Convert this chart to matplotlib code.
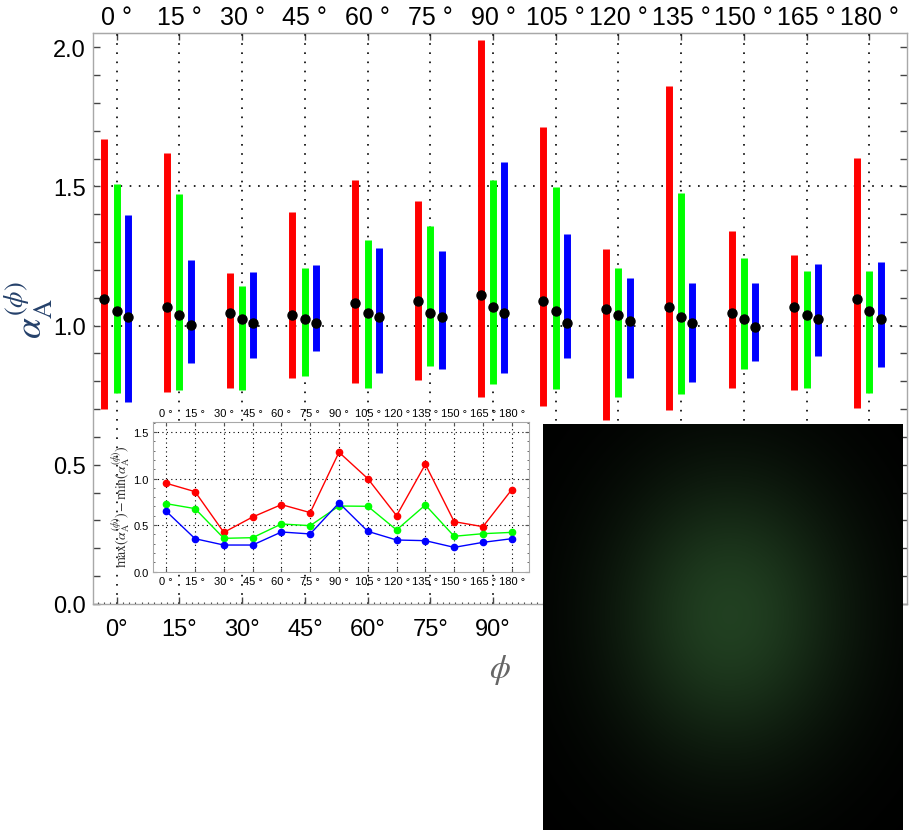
import numpy as np
import matplotlib
matplotlib.use("Agg")
import matplotlib.pyplot as plt
from matplotlib.ticker import FixedLocator, MultipleLocator

plt.rcParams['font.family'] = ['Liberation Sans', 'DejaVu Sans']
plt.rcParams['mathtext.fontset'] = 'stix'

# ---------------- data ----------------
angles = [0, 15, 30, 45, 60, 75, 90, 105, 120, 135, 150, 165, 180]
top_labels = ["0 °", "15 °", "30 °", "45 °", "60 °", "75 °", "90 °", "105 °",
              "120 °", "135 °", "150 °", "165 °", "180 °"]
bottom_labels = ["0°", "15°", "30°", "45°", "60°", "75°", "90°", "", "", "", "", "", ""]
y_ticks = [0.0, 0.5, 1.0, 1.5, 2.0]
y_ticklabels = ["0.0", "0.5", "1.0", "1.5", "2.0"]

red_hi = [1.670, 1.621, 1.188, 1.408, 1.522, 1.447, 2.026, 1.715, 1.274, 1.859, 1.339, 1.253, 1.602]
red_lo = [0.701, 0.763, 0.777, 0.812, 0.794, 0.805, 0.743, 0.710, 0.660, 0.695, 0.777, 0.767, 0.705]
red_mid = [1.096, 1.066, 1.045, 1.037, 1.080, 1.088, 1.109, 1.088, 1.059, 1.066, 1.045, 1.066, 1.095]

green_hi = [1.509, 1.471, 1.143, 1.206, 1.308, 1.357, 1.524, 1.498, 1.206, 1.476, 1.244, 1.195, 1.195]
green_lo = [0.758, 0.770, 0.768, 0.820, 0.776, 0.856, 0.791, 0.773, 0.744, 0.755, 0.844, 0.775, 0.757]
green_mid = [1.052, 1.037, 1.023, 1.022, 1.045, 1.045, 1.066, 1.052, 1.037, 1.030, 1.023, 1.037, 1.052]

blue_hi = [1.397, 1.235, 1.192, 1.216, 1.278, 1.267, 1.588, 1.329, 1.170, 1.152, 1.153, 1.220, 1.228]
blue_lo = [0.727, 0.864, 0.885, 0.908, 0.828, 0.844, 0.829, 0.884, 0.811, 0.798, 0.874, 0.889, 0.853]
blue_mid = [1.030, 1.001, 1.009, 1.009, 1.030, 1.030, 1.045, 1.009, 1.016, 1.009, 0.994, 1.023, 1.023]

# inset: spread max - min
red_spread = [0.949, 0.859, 0.422, 0.587, 0.720, 0.634, 1.282, 0.999, 0.601, 1.153, 0.537, 0.483, 0.881]
green_spread = [0.730, 0.677, 0.358, 0.365, 0.512, 0.494, 0.705, 0.702, 0.448, 0.716, 0.380, 0.408, 0.422]
blue_spread = [0.648, 0.354, 0.286, 0.286, 0.426, 0.405, 0.738, 0.433, 0.340, 0.333, 0.261, 0.315, 0.354]
inset_yticks = [0.0, 0.5, 1.0, 1.5]
inset_yticklabels = ["0.0", "0.5", "1.0", "1.5"]

RED, GREEN, BLUE = "#ff0000", "#00ff00", "#0000ff"

fig = plt.figure(figsize=(9.14, 8.37), dpi=100)

# ---------------- main axes ----------------
ax = fig.add_axes([0.1014, 0.2772, 0.8904, 0.6822])
ax.set_zorder(1)
ax.set_xlim(-5.74, 188.9)
ax.set_ylim(0, 2.051)

a = np.array(angles, dtype=float)
dot_style = (1, 4.5)
for xv in angles:
    ax.axvline(xv, color="black", lw=1.2, ls=(0, dot_style), zorder=0.5)
for yv in (1.0, 1.5):
    ax.axhline(yv, color="black", lw=1.2, ls=(0, dot_style), zorder=0.5)

offs = {"r": -2.95, "g": 0.0, "b": 2.7}
ax.vlines(a + offs["r"], red_lo, red_hi, color=RED, lw=5, zorder=2)
ax.vlines(a + offs["g"], green_lo, green_hi, color=GREEN, lw=5, zorder=2)
ax.vlines(a + offs["b"], blue_lo, blue_hi, color=BLUE, lw=5, zorder=2)
ax.plot(a + offs["r"], red_mid, "o", color="black", ms=6.5, zorder=3)
ax.plot(a + offs["g"], green_mid, "o", color="black", ms=6.5, zorder=3)
ax.plot(a + offs["b"], blue_mid, "o", color="black", ms=6.5, zorder=3)

for s in ax.spines.values():
    s.set_color("#a8a8a8")
    s.set_linewidth(1.0)

ax.xaxis.set_major_locator(FixedLocator(angles))
ax.set_xticklabels(bottom_labels)
ax.xaxis.set_minor_locator(MultipleLocator(1.5))
ax.yaxis.set_major_locator(FixedLocator(y_ticks))
ax.set_yticklabels(y_ticklabels)
ax.yaxis.set_minor_locator(MultipleLocator(0.1))
ax.tick_params(axis="both", which="major", direction="in", length=5, width=1,
               color="#444444", labelsize=17)
ax.tick_params(axis="x", which="major", pad=10)
ax.tick_params(axis="y", which="major", pad=5, right=True)
ax.tick_params(axis="y", which="minor", direction="in", length=5, width=1,
               color="#444444", right=True)
ax.tick_params(axis="x", which="minor", direction="in", length=1.8, width=0.8,
               color="#444444", top=False)

axt = ax.secondary_xaxis("top")
axt.xaxis.set_major_locator(FixedLocator(angles))
axt.set_xticklabels(top_labels)
axt.tick_params(direction="in", length=5, width=1, color="#444444", labelsize=18, pad=3)
axt.spines["top"].set_color("#a8a8a8")

fig.text(29 / 914, 1 - 310 / 837, r"$\alpha_{\mathrm{A}}^{(\phi)}$", rotation=90,
         fontsize=27, color="#24406a", ha="center", va="center")
fig.text(500 / 914, 1 - 670 / 837, r"$\phi$", fontsize=24, color="#666666",
         ha="center", va="center")

# ---------------- inset ----------------
ax2 = fig.add_axes([0.1674, 0.3158, 0.4114, 0.1785])
ax2.set_zorder(2)
ax2.set_xlim(-6.9, 189)
ax2.set_ylim(0, 1.604)
for xv in angles:
    ax2.axvline(xv, color="black", lw=0.8, ls=(0, (1, 3)), zorder=0.5)
for yv in (0.5, 1.0, 1.5):
    ax2.axhline(yv, color="black", lw=0.8, ls=(0, (1, 3)), zorder=0.5)
ax2.plot(angles, red_spread, "-o", color=RED, lw=1.0, ms=4.5, zorder=3)
ax2.plot(angles, green_spread, "-o", color=GREEN, lw=1.0, ms=4.5, zorder=3)
ax2.plot(angles, blue_spread, "-o", color=BLUE, lw=1.0, ms=4.5, zorder=3)
for s in ax2.spines.values():
    s.set_color("#a8a8a8")
    s.set_linewidth(0.8)
ax2.xaxis.set_major_locator(FixedLocator(angles))
ax2.set_xticklabels(top_labels)
ax2.yaxis.set_major_locator(FixedLocator(inset_yticks))
ax2.set_yticklabels(inset_yticklabels)
ax2.yaxis.set_minor_locator(MultipleLocator(0.1))
ax2.tick_params(axis="both", which="major", direction="in", length=3, width=0.8,
                color="#555555", labelsize=8, pad=3, top=True, labeltop=True, right=True)
ax2.tick_params(axis="y", which="minor", direction="in", length=1.5, width=0.6,
                color="#555555", right=True)
fig.text(121 / 914, 1 - 507 / 837,
         r"$\max(\alpha_{\mathrm{A}}^{(\phi)})-\min(\alpha_{\mathrm{A}}^{(\phi)})$",
         rotation=90, fontsize=10, color="#333333", ha="center", va="center")

# ---------------- picture (decorative nebula placeholder) ----------------
ax3 = fig.add_axes([543 / 914, 1 - 830.7 / 837, (902.7 - 543) / 914, (830.7 - 425) / 837])
ax3.set_zorder(3)
ny, nx = 240, 220
yy, xx = np.mgrid[0:1:ny * 1j, 0:1:nx * 1j]
rr = ((xx - 0.52) / 0.42) ** 2 + ((yy - 0.47) / 0.45) ** 2
glow = np.exp(-rr * 1.6)
img = np.zeros((ny, nx, 3))
img[..., 0] = 0.13 * glow
img[..., 1] = 0.25 * glow
img[..., 2] = 0.13 * glow
ax3.imshow(img, aspect="auto", extent=(0, 1, 0, 1), interpolation="bilinear")
ax3.set_axis_off()

fig.savefig("out.png", dpi=100)
